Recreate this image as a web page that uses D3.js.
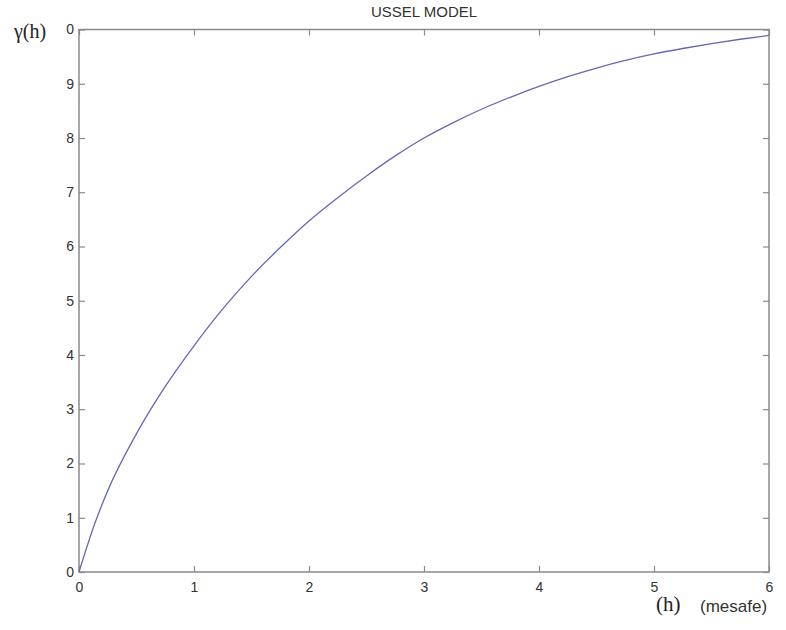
<!DOCTYPE html>
<html>
<head>
<meta charset="utf-8">
<script src="https://cdn.jsdelivr.net/npm/d3@7"></script>
<style>
  body { margin: 0; background: #fff; }
  text { font-family: "Liberation Sans", Arial, sans-serif; }
</style>
</head>
<body>
<script>
// curve: distance h and semivariance gamma(h)
const hValues = [0, 0.125, 0.25, 0.5, 0.75, 1.0, 1.25, 1.5, 1.75, 2.0, 2.25, 2.5, 2.75, 3.0,
  3.25, 3.5, 3.75, 4.0, 4.25, 4.5, 4.75, 5.0, 5.25, 5.5, 5.75, 6.0];
const gammaValues = [0, 0.82, 1.5, 2.55, 3.42, 4.17, 4.85, 5.45, 5.98, 6.47, 6.9, 7.3, 7.67, 8.0,
  8.28, 8.53, 8.75, 8.95, 9.13, 9.29, 9.43, 9.55, 9.65, 9.74, 9.82, 9.89];
const xTicks = [0, 1, 2, 3, 4, 5, 6];
const yTicks = [0, 1, 2, 3, 4, 5, 6, 7, 8, 9, 10];
const yTickLabels = ["0", "1", "2", "3", "4", "5", "6", "7", "8", "9", "0"];

const margin = { top: 29.5, right: 17, bottom: 58, left: 79 },
  width = 786 - margin.left - margin.right,
  height = 630 - margin.top - margin.bottom;

const data = hValues.map((h, i) => ({ h: h, g: gammaValues[i] }));

const root = d3.select("body").append("svg")
  .attr("width", 786)
  .attr("height", 630);

const svg = root.append("g")
  .attr("transform", `translate(${margin.left}, ${margin.top})`);

const x = d3.scaleLinear().domain([0, 6]).range([0, width]);
const y = d3.scaleLinear().domain([0, 10]).range([height, 0]);

const axisColor = "#8a8a8a";

// frame
svg.append("rect")
  .attr("width", width)
  .attr("height", height)
  .attr("fill", "none")
  .attr("stroke", axisColor)
  .attr("stroke-width", 1.5);

const styleAxis = (g) => {
  g.select(".domain").remove();
  g.selectAll(".tick line").attr("stroke", axisColor).attr("stroke-width", 1.2);
  g.selectAll(".tick text").attr("fill", "#333").style("font-size", "14px");
};

svg.append("g")
  .attr("transform", `translate(0, ${height})`)
  .call(d3.axisBottom(x).tickValues(xTicks).tickSizeInner(-6).tickSizeOuter(0).tickPadding(10)
    .tickFormat(d3.format("d")))
  .call(styleAxis);

svg.append("g")
  .call(d3.axisTop(x).tickValues(xTicks).tickSizeInner(-6).tickSizeOuter(0).tickFormat(""))
  .call(styleAxis);

svg.append("g")
  .call(d3.axisLeft(y).tickValues(yTicks).tickSizeInner(-6).tickSizeOuter(0).tickPadding(5)
    .tickFormat((d, i) => yTickLabels[i]))
  .call(styleAxis);

svg.append("g")
  .attr("transform", `translate(${width}, 0)`)
  .call(d3.axisRight(y).tickValues(yTicks).tickSizeInner(-6).tickSizeOuter(0).tickFormat(""))
  .call(styleAxis);

// the model curve
const valueLine = d3.line()
  .x((d) => x(d.h))
  .y((d) => y(d.g))
  .curve(d3.curveMonotoneX);

svg.append("path")
  .datum(data)
  .attr("fill", "none")
  .attr("stroke", "#6767b8")
  .attr("stroke-width", 1.3)
  .attr("d", valueLine);

// title
svg.append("text")
  .attr("x", width / 2)
  .attr("y", -12.5)
  .attr("text-anchor", "middle")
  .attr("fill", "#333")
  .style("font-size", "15px")
  .text("USSEL MODEL");

// axis labels
root.append("text")
  .attr("x", 14)
  .attr("y", 38)
  .style("font-family", "'Liberation Serif', 'Times New Roman', serif")
  .style("font-size", "20px")
  .attr("fill", "#222")
  .text("γ(h)");

root.append("text")
  .attr("x", 656)
  .attr("y", 611)
  .style("font-family", "'Liberation Serif', 'Times New Roman', serif")
  .style("font-size", "21px")
  .attr("fill", "#222")
  .text("(h)");

root.append("text")
  .attr("x", 700)
  .attr("y", 612)
  .style("font-size", "17px")
  .attr("fill", "#333")
  .text("(mesafe)");
</script>
</body>
</html>
